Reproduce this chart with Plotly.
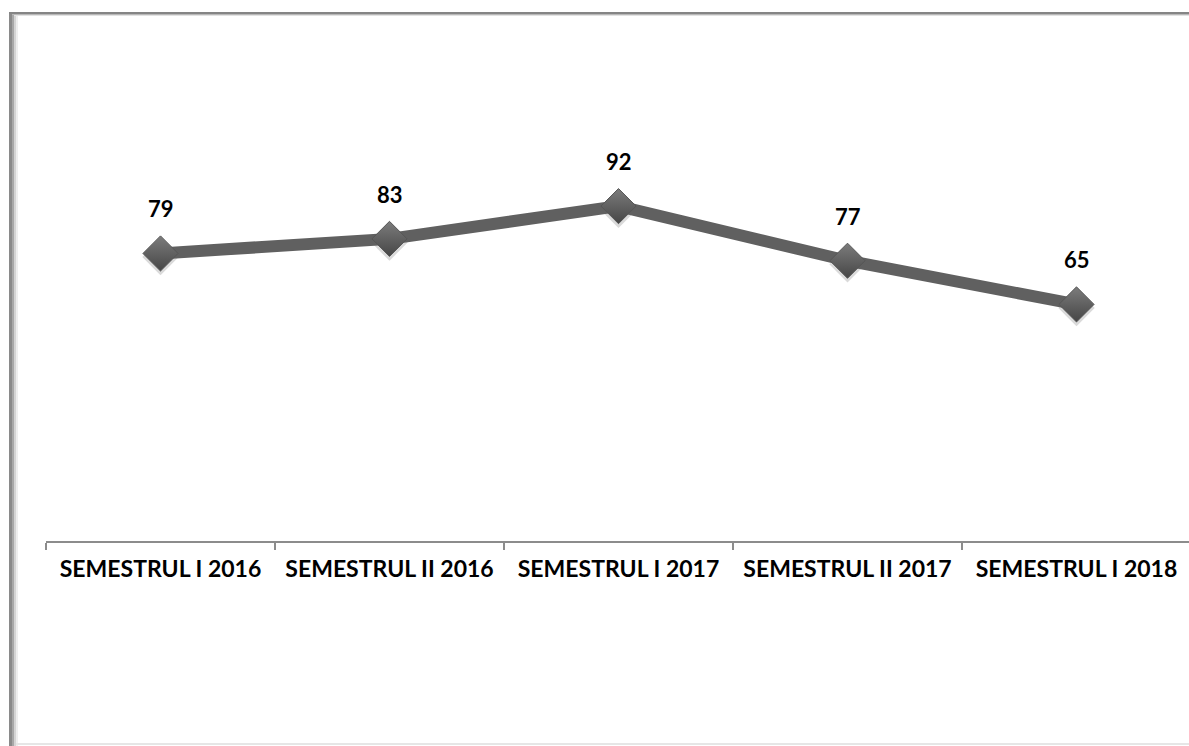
import plotly.graph_objects as go

# Semester values
categories = ["SEMESTRUL I 2016", "SEMESTRUL II 2016", "SEMESTRUL I 2017",
              "SEMESTRUL II 2017", "SEMESTRUL I 2018"]
values = [79, 83, 92, 77, 65]

W, H = 1189, 746
FONT = "Lato"

# Plot-area geometry in pixels
x_left_px = 46
cat_px = 229
y_axis_px = 541
y_top_px = 31
px_per_unit = 3.64

x_max = -0.5 + (W - x_left_px) / cat_px
y_max = (y_axis_px - y_top_px) / px_per_unit

fig = go.Figure()

# soft drop shadow under the markers
fig.add_trace(go.Scatter(
    x=categories, y=[v - 1.0 for v in values],
    mode="markers",
    marker=dict(symbol="diamond", size=28, color="rgba(150,150,150,0.35)",
                line=dict(width=0)),
    hoverinfo="skip", showlegend=False, cliponaxis=False,
))

# main series
fig.add_trace(go.Scatter(
    x=categories, y=values,
    mode="lines+markers",
    line=dict(color="#606060", width=12),
    marker=dict(symbol="diamond", size=27, color="#7c7c7c",
                gradient=dict(type="vertical", color="#464646"),
                line=dict(width=1, color="#555555")),
    showlegend=False, cliponaxis=False,
))

# value labels above each point
for c, v in zip(categories, values):
    fig.add_annotation(
        x=c, y=v, text=str(v), showarrow=False,
        yanchor="bottom", yshift=29,
        font=dict(family=FONT, size=22, color="#000000", weight="bold"),
    )

# frame around the chart
frame = [
    # left edge, shaded
    dict(x0=9, x1=12, y0=13, y1=H, color="#8a8a8a"),
    dict(x0=12, x1=14, y0=13, y1=H, color="#a8a8a8"),
    dict(x0=14, x1=16, y0=15, y1=H, color="#d4d4d4"),
    dict(x0=16, x1=18, y0=16, y1=H, color="#eeeeee"),
    # top edge, shaded
    dict(x0=9, x1=W, y0=12, y1=14, color="#858585"),
    dict(x0=12, x1=W, y0=14, y1=15, color="#b8b8b8"),
    dict(x0=14, x1=W, y0=15, y1=16, color="#e2e2e2"),
    # bottom edge
    dict(x0=16, x1=W, y0=743, y1=745, color="#e6e6e6"),
]
for f in frame:
    fig.add_shape(type="rect", xref="paper", yref="paper",
                  x0=f["x0"] / W, x1=f["x1"] / W,
                  y0=1 - f["y1"] / H, y1=1 - f["y0"] / H,
                  fillcolor=f["color"], line=dict(width=0), layer="below")

fig.update_layout(
    width=W, height=H,
    margin=dict(l=0, r=0, t=0, b=0),
    paper_bgcolor="#ffffff", plot_bgcolor="rgba(0,0,0,0)",
    xaxis=dict(
        type="category", domain=[x_left_px / W, 1],
        range=[-0.5, x_max], tickson="boundaries",
        ticks="outside", ticklen=7, tickwidth=2, tickcolor="#8c8c8c",
        showline=True, linecolor="#8c8c8c", linewidth=2,
        showgrid=False, zeroline=False,
        tickfont=dict(family=FONT, size=23, color="#000000", weight="bold"),
        ticklabelstandoff=6,
    ),
    yaxis=dict(
        domain=[1 - y_axis_px / H, 1 - y_top_px / H],
        range=[0, y_max], visible=False, showgrid=False,
    ),
)

fig.write_html("out.html")
